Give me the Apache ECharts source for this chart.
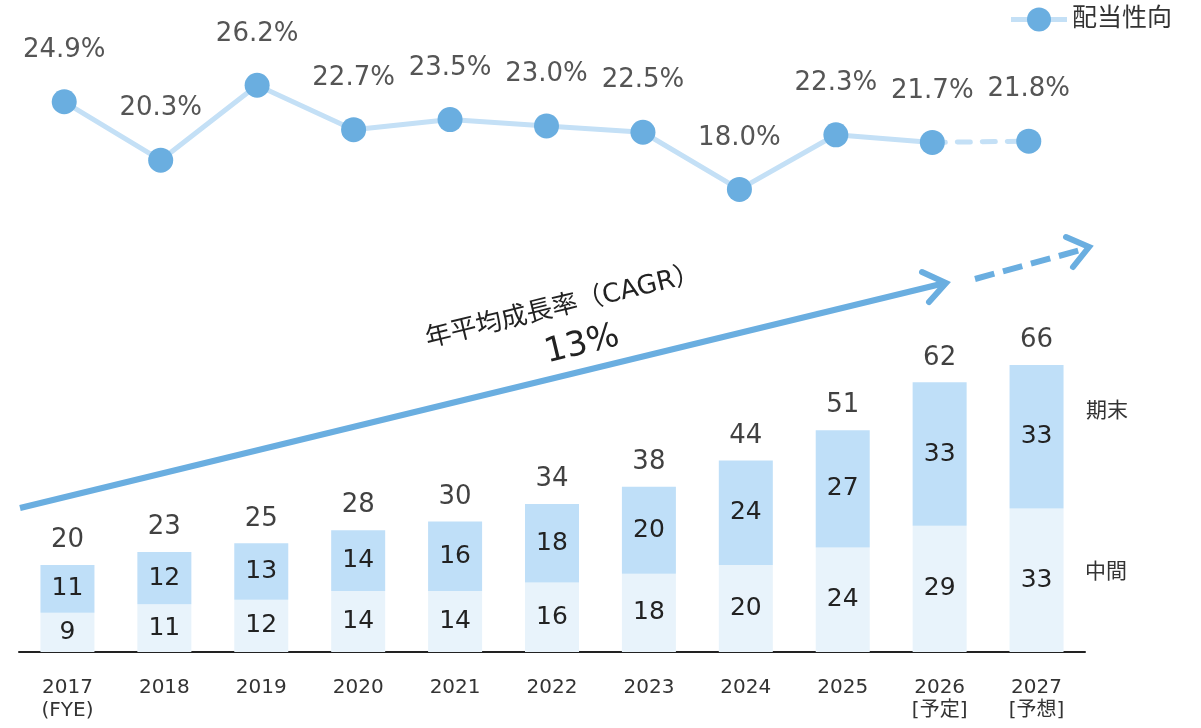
<!DOCTYPE html>
<html>
<head>
<meta charset="utf-8">
<script src="https://cdn.jsdelivr.net/npm/echarts@6/dist/echarts.min.js"></script>
<style>
  html, body { margin: 0; padding: 0; background: #fff; }
  #chart { width: 1201px; height: 728px; }
</style>
</head>
<body>
<div id="chart"></div>
<script>
var years = ['2017\n(FYE)', '2018', '2019', '2020', '2021', '2022', '2023', '2024', '2025', '2026\n[予定]', '2027\n[予想]'];
var interim = [9, 11, 12, 14, 14, 16, 18, 20, 24, 29, 33];
var yearEnd = [11, 12, 13, 14, 16, 18, 20, 24, 27, 33, 33];
var totals = [20, 23, 25, 28, 30, 34, 38, 44, 51, 62, 66];
var payout = [24.9, 20.3, 26.2, 22.7, 23.5, 23.0, 22.5, 18.0, 22.3, 21.7, 21.8];

var FONT = '"DejaVu Sans", "Noto Sans CJK JP", sans-serif';
var DOT = '#6aaee0';
var LINE = '#c4e0f6';

var chart = echarts.init(document.getElementById('chart'));

// solid part up to 2026, dashed segment 2026 -> 2027
var n = payout.length;
var solidData = payout.map(function (v, i) { return i < n - 1 ? v : '-'; });
var dashData = payout.map(function (v, i) {
    if (i === n - 2) return { value: v, symbol: 'none', label: { show: false } };
    if (i === n - 1) return v;
    return '-';
});

var pctLabel = {
    show: true, position: 'top', distance: 26, color: '#555', fontSize: 26,
    formatter: function (p) { return p.value.toFixed(1) + '%'; }
};

var option = {
    textStyle: { fontFamily: FONT },
    animation: false,
    legend: {
        right: 24, top: 2,
        itemWidth: 56, itemHeight: 30, itemGap: 8,
        lineStyle: { width: 5 },
        textStyle: { fontSize: 25, color: '#333', fontFamily: FONT },
        data: ['配当性向']
    },
    grid: [
        { left: 19, width: 1066, top: 304, height: 348 },
        { left: 16, width: 1061, top: 37, height: 254 }
    ],
    xAxis: [{
        type: 'category', gridIndex: 0, data: years,
        axisLine: { lineStyle: { color: '#222', width: 2 } },
        axisTick: { show: false },
        axisLabel: { color: '#333', fontSize: 20, lineHeight: 23, margin: 24, fontFamily: FONT }
    }, {
        type: 'category', gridIndex: 1, data: years, show: false
    }],
    yAxis: [{
        type: 'value', gridIndex: 0, min: 0, max: 80, show: false
    }, {
        type: 'value', gridIndex: 1, min: 10, max: 30, show: false
    }],
    series: [{
        name: '中間', type: 'bar', stack: 'div', barWidth: 54,
        xAxisIndex: 0, yAxisIndex: 0,
        itemStyle: { color: '#e8f3fb' },
        label: { show: true, position: 'inside', color: '#222', fontSize: 25 },
        data: interim
    }, {
        name: '期末', type: 'bar', stack: 'div', barWidth: 54,
        xAxisIndex: 0, yAxisIndex: 0,
        itemStyle: { color: '#bfdff8' },
        label: { show: true, position: 'inside', color: '#222', fontSize: 25 },
        data: yearEnd
    }, {
        name: 'total', type: 'scatter', xAxisIndex: 0, yAxisIndex: 0,
        symbolSize: 1, itemStyle: { color: 'rgba(0,0,0,0)' },
        label: { show: true, position: 'top', distance: 11, color: '#111', fontSize: 26 },
        data: totals
    }, {
        name: '配当性向', type: 'line', xAxisIndex: 1, yAxisIndex: 1,
        symbol: 'circle', symbolSize: 25,
        lineStyle: { color: LINE, width: 5 },
        itemStyle: { color: DOT },
        label: pctLabel,
        data: solidData
    }, {
        name: 'dash', type: 'line', xAxisIndex: 1, yAxisIndex: 1,
        symbol: 'circle', symbolSize: 25,
        lineStyle: { color: LINE, width: 5, type: [13, 12], cap: 'round' },
        itemStyle: { color: DOT },
        label: pctLabel,
        data: dashData
    }],
    graphic: [
        // CAGR arrow (solid)
        { type: 'polyline', shape: { points: [[20, 508], [945, 283]] },
          style: { stroke: DOT, lineWidth: 6, fill: null } },
        { type: 'polyline', shape: { points: [[922, 272], [946, 283], [929, 302]] },
          style: { stroke: DOT, lineWidth: 6, fill: null, lineCap: 'round', lineJoin: 'miter' } },
        // forecast arrow (dashed)
        { type: 'polyline', shape: { points: [[975, 279], [1088, 248]] },
          style: { stroke: DOT, lineWidth: 6, fill: null, lineDash: [20, 9] } },
        { type: 'polyline', shape: { points: [[1066, 237], [1089, 247], [1073, 267]] },
          style: { stroke: DOT, lineWidth: 6, fill: null, lineCap: 'round' } },
        { type: 'text', x: 563, y: 307, rotation: 13.7 * Math.PI / 180,
          style: { text: '年平均成長率（CAGR）', fill: '#222', fontSize: 26, fontFamily: FONT,
                   align: 'center', verticalAlign: 'middle' } },
        { type: 'text', x: 582, y: 345, rotation: 13.7 * Math.PI / 180,
          style: { text: '13%', fill: '#222', fontSize: 34, fontFamily: FONT,
                   align: 'center', verticalAlign: 'middle' } },
        { type: 'text', x: 1107, y: 412,
          style: { text: '期末', fill: '#333', fontSize: 21, fontFamily: FONT,
                   align: 'center', verticalAlign: 'middle' } },
        { type: 'text', x: 1106, y: 573,
          style: { text: '中間', fill: '#333', fontSize: 21, fontFamily: FONT,
                   align: 'center', verticalAlign: 'middle' } }
    ]
};
chart.setOption(option);
window.addEventListener('resize', function () { chart.resize(); });
</script>
</body>
</html>
